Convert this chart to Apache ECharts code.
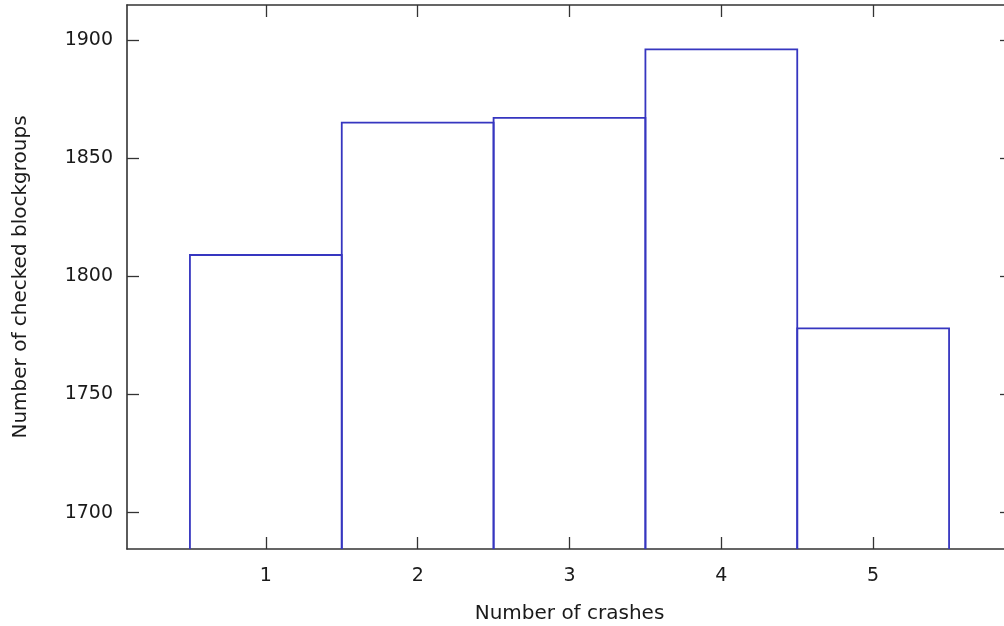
<!DOCTYPE html>
<html>
<head>
<meta charset="utf-8">
<script src="https://cdn.jsdelivr.net/npm/echarts@6/dist/echarts.min.js"></script>
<style>
html,body{margin:0;padding:0;background:#fff;}
#chart{width:1004px;height:626px;}
</style>
</head>
<body>
<div id="chart"></div>
<script>
var crashes = [1, 2, 3, 4, 5];
var blockgroups = [1809, 1865, 1867, 1896, 1778];
var xTicks = [1, 2, 3, 4, 5];
var yTicks = [1700, 1750, 1800, 1850, 1900];
var xTitle = 'Number of crashes';
var yTitle = 'Number of checked blockgroups';

var X_MIN = 0.0855, X_MAX = 5.9145;
var Y_MIN = 1684.6, Y_MAX = 1914.8;

var FONT = 'DejaVu Sans';
var TEXT = '#1a1a1a';
var FRAME = '#333333';
var BLUE = '#3636c0';

var chart = echarts.init(document.getElementById('chart'), null, {renderer: 'canvas'});

function axisCommon(show) {
  return {
    axisLine: {show: true, onZero: false, lineStyle: {color: FRAME, width: 1.6}},
    splitLine: {show: false},
    axisTick: {show: true, inside: true, length: 12, lineStyle: {color: FRAME, width: 1.3}},
    axisLabel: {show: show, color: TEXT, fontFamily: FONT, fontSize: 19}
  };
}

var xBottom = echarts.util.merge(axisCommon(true), {
  type: 'value', position: 'bottom', min: X_MIN, max: X_MAX,
  name: xTitle, nameLocation: 'middle', nameGap: 55,
  nameTextStyle: {color: TEXT, fontFamily: FONT, fontSize: 20},
  axisLabel: {margin: 18, customValues: xTicks, formatter: function (v) { return String(v); }},
  axisTick: {customValues: xTicks}
}, true);
var xTop = echarts.util.merge(axisCommon(false), {
  type: 'value', position: 'top', min: X_MIN, max: X_MAX,
  axisTick: {customValues: xTicks}
}, true);
var yLeft = echarts.util.merge(axisCommon(true), {
  type: 'value', position: 'left', min: Y_MIN, max: Y_MAX,
  name: yTitle, nameLocation: 'middle', nameGap: 96,
  nameTextStyle: {color: TEXT, fontFamily: FONT, fontSize: 20},
  axisLabel: {margin: 14, customValues: yTicks, formatter: function (v) { return String(v); }},
  axisTick: {customValues: yTicks}
}, true);
var yRight = echarts.util.merge(axisCommon(false), {
  type: 'value', position: 'right', min: Y_MIN, max: Y_MAX,
  axisTick: {customValues: yTicks}
}, true);

var data = crashes.map(function (c, i) { return [c, blockgroups[i]]; });

chart.setOption({
  animation: false,
  backgroundColor: '#ffffff',
  grid: {left: 127, top: 5, right: -8, bottom: 77, containLabel: false, outerBoundsMode: 'none'},
  xAxis: [xBottom, xTop],
  yAxis: [yLeft, yRight],
  series: [{
    type: 'custom',
    xAxisIndex: 0,
    yAxisIndex: 0,
    data: data,
    z: 1,
    renderItem: function (params, api) {
      var x = api.value(0), y = api.value(1);
      var p0 = api.coord([x - 0.5, Y_MIN]);
      var p1 = api.coord([x - 0.5, y]);
      var p2 = api.coord([x + 0.5, y]);
      var p3 = api.coord([x + 0.5, Y_MIN]);
      return {
        type: 'polyline',
        shape: {points: [p0, p1, p2, p3]},
        style: {stroke: BLUE, lineWidth: 1.8, fill: null}
      };
    }
  }]
});
</script>
</body>
</html>
